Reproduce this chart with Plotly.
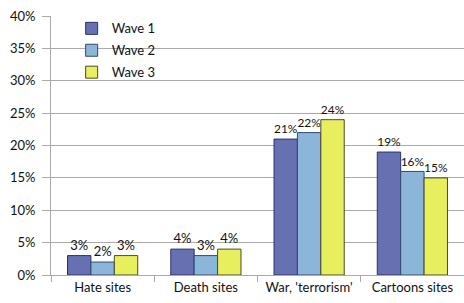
import plotly.graph_objects as go

categories = ["Hate sites", "Death sites", "War, 'terrorism'", "Cartoons sites"]
series_names = ["Wave 1", "Wave 2", "Wave 3"]
wave1 = [3, 4, 21, 19]
wave2 = [2, 3, 22, 16]
wave3 = [3, 4, 24, 15]
y_ticks = [0, 5, 10, 15, 20, 25, 30, 35, 40]

fills = ["#6770B0", "#8CB6D9", "#E7EF5E"]
lines = ["#2B3170", "#34496B", "#4A4A2A"]

font_family = "Lato, 'Open Sans', sans-serif"

fig = go.Figure()
for name, vals, fc, lc in zip(series_names, [wave1, wave2, wave3], fills, lines):
    fig.add_trace(go.Bar(
        name=name, x=categories, y=vals, legendgroup=name,
        marker=dict(color=fc, line=dict(color=lc, width=1)),
        text=[f"{v}%" for v in vals], textposition="outside",
        textfont=dict(size=13, color="#111111"),
        cliponaxis=False,
    ))

fig.update_layout(
    width=464, height=303,
    margin=dict(l=51, r=0, t=16, b=28, autoexpand=False),
    paper_bgcolor="white", plot_bgcolor="white",
    font=dict(family=font_family, size=13, color="#111111"),
    barmode="group", bargap=0.32, bargroupgap=0,
    legend=dict(x=0.05, y=1.01, xanchor="left", yanchor="top",
                bgcolor="rgba(0,0,0,0)", font=dict(size=13),
                traceorder="grouped", tracegroupgap=2, itemwidth=30),
    showlegend=True,
)
fig.update_yaxes(
    range=[0, 40.02], tickvals=y_ticks, ticktext=[f"{t}%" for t in y_ticks],
    showgrid=True, gridcolor="#AAAAAA", gridwidth=1,
    showline=True, linecolor="#AAAAAA", linewidth=1,
    ticks="outside", ticklen=8, tickcolor="#AAAAAA", ticklabelstandoff=4,
    zeroline=False, tickfont=dict(size=13), automargin=False,
)
fig.update_xaxes(
    showline=True, linecolor="#AAAAAA", linewidth=1,
    ticks="outside", tickson="boundaries", ticklen=6, tickcolor="#AAAAAA",
    tickfont=dict(size=13), automargin=False,
)

fig.write_html(
    "out.html",
    config={"displayModeBar": False},
    post_script="document.body.style.margin='0';document.body.style.overflow='hidden';",
)
